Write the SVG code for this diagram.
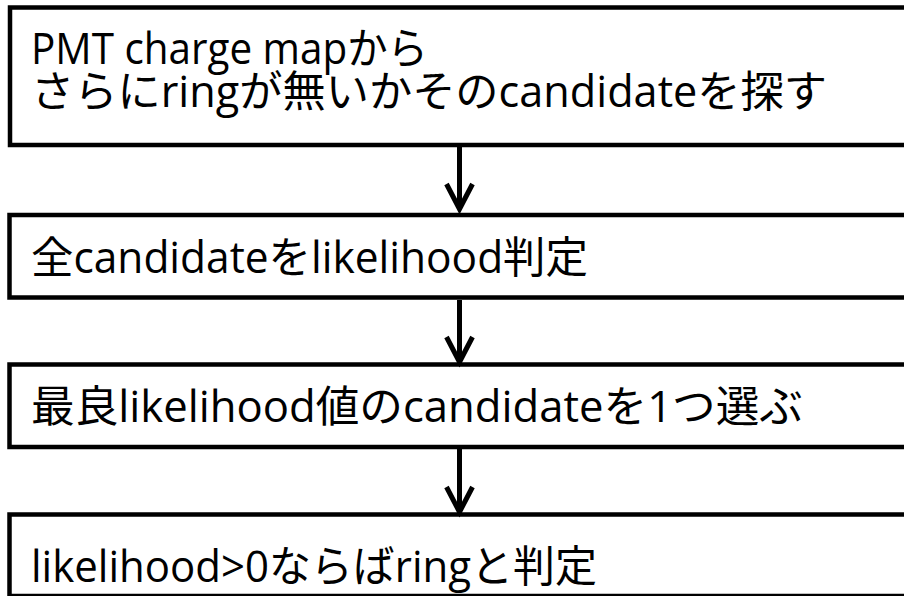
<svg xmlns="http://www.w3.org/2000/svg" width="904" height="596" viewBox="0 0 904 596">
<style>
.box{fill:#fff;stroke:#000;stroke-width:4.5}
.t{font-family:"Open Sans","Noto Sans CJK JP",sans-serif;font-size:43px;fill:#000}
.c{stroke:#000;stroke-width:5;fill:none}
</style>
<defs>
<marker id="v" markerUnits="userSpaceOnUse" orient="auto" refX="0" refY="0" markerWidth="40" markerHeight="40" viewBox="-30 -20 40 40" overflow="visible">
<path d="M-25,-13 L0,0 L-25,13" fill="none" stroke="#000" stroke-width="5" stroke-linejoin="miter"/>
</marker>
</defs>
<rect width="904" height="596" fill="#fff"/>
<g id="n1">
<rect class="box" x="10" y="7.5" width="1000" height="137.5"/>
<text class="t" x="31" y="63.5" textLength="397" lengthAdjust="spacingAndGlyphs">PMT charge mapから</text>
<text class="t" x="31" y="106.5" textLength="796" lengthAdjust="spacingAndGlyphs">さらにringが無いかそのcandidateを探す</text>
</g>
<g id="n2">
<rect class="box" x="9.5" y="215" width="1000" height="82.5"/>
<text class="t" x="31" y="272.5" textLength="557" lengthAdjust="spacingAndGlyphs">全candidateをlikelihood判定</text>
</g>
<g id="n3">
<rect class="box" x="9.5" y="364.5" width="1000" height="82.5"/>
<text class="t" x="31" y="421.5" textLength="772" lengthAdjust="spacingAndGlyphs">最良likelihood値のcandidateを1つ選ぶ</text>
</g>
<g id="n4">
<rect class="box" x="9.5" y="514.5" width="1000" height="81.5"/>
<text class="t" x="31" y="581.5" textLength="566" lengthAdjust="spacingAndGlyphs">likelihood&gt;0ならばringと判定</text>
</g>
<g id="connectors">
<path class="c" d="M459.5,147 V209" marker-end="url(#v)"/>
<path class="c" d="M459.5,300 V362" marker-end="url(#v)"/>
<path class="c" d="M459.5,449 V512" marker-end="url(#v)"/>
</g>
</svg>
